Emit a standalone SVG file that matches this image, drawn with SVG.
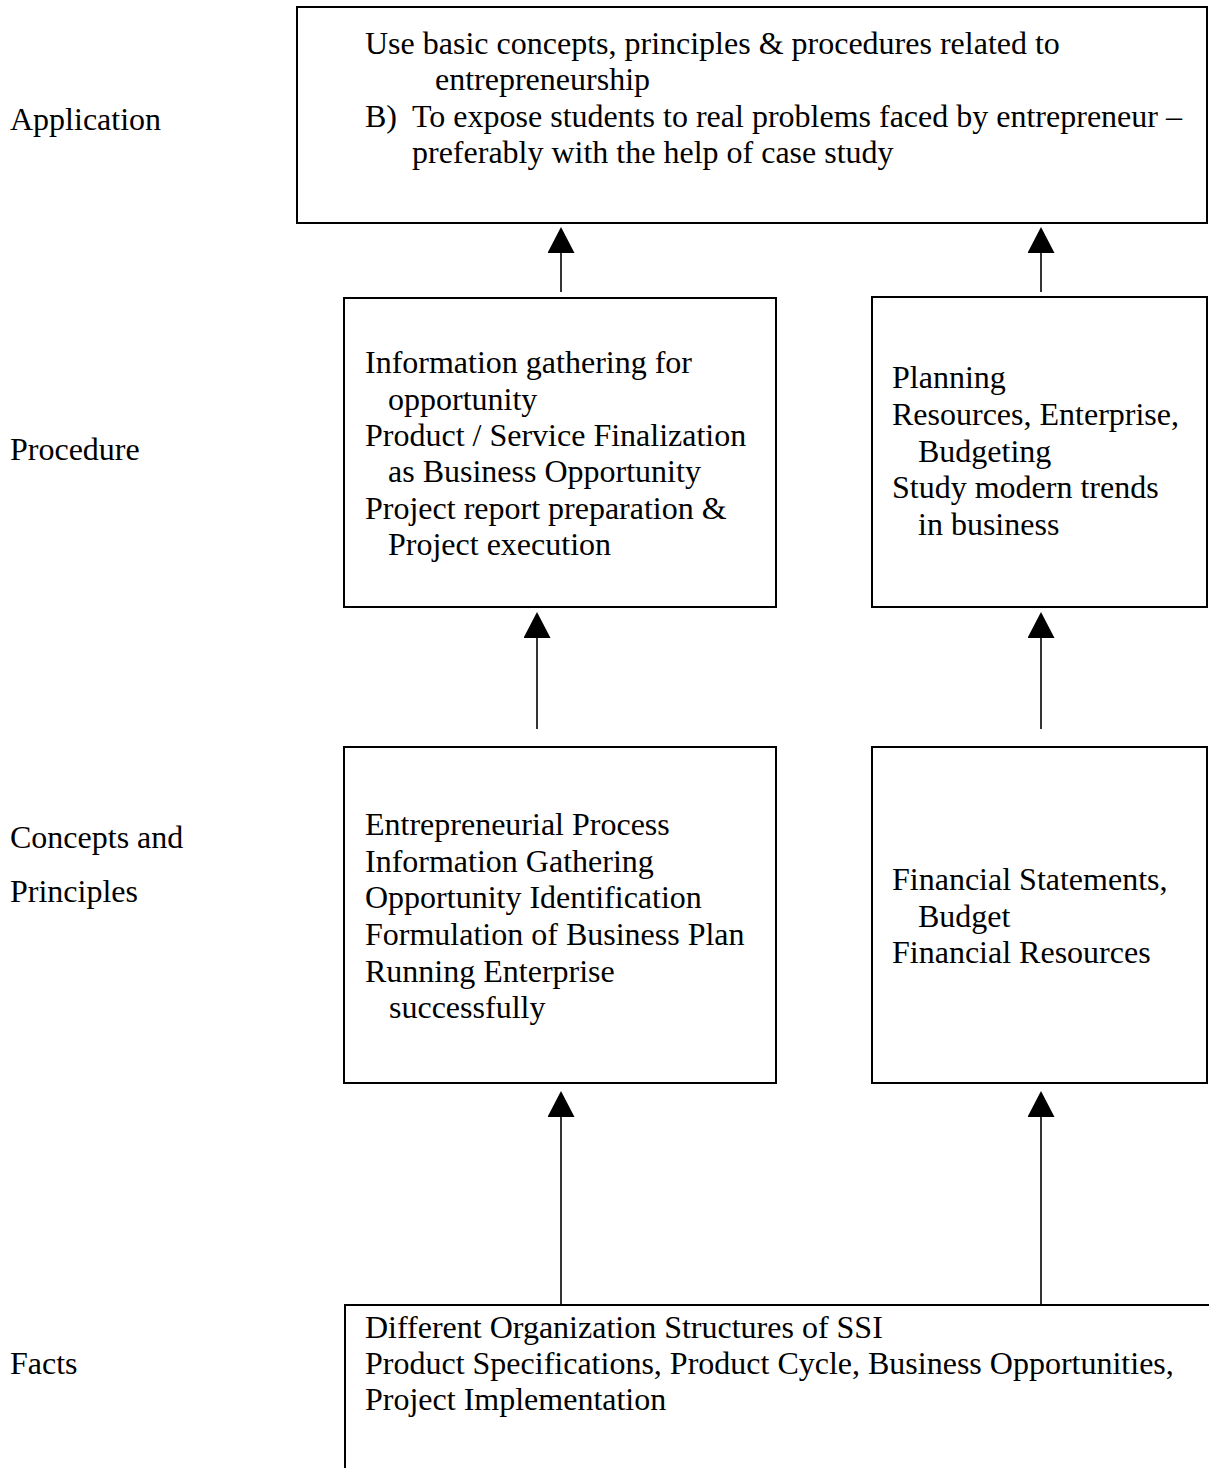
<svg xmlns="http://www.w3.org/2000/svg" width="1209" height="1468" viewBox="0 0 1209 1468">
<style>
  text { font-family: "Liberation Serif", "Times New Roman", serif; font-size: 32px; fill: #000; }
  .box { fill: #fff; stroke: #000; stroke-width: 2; }
  .conn { stroke: #000; stroke-width: 1.6; fill: none; }
</style>
<defs>
  <marker id="arr" viewBox="0 0 26 27" refX="0" refY="13.5" markerWidth="26" markerHeight="27" markerUnits="userSpaceOnUse" orient="auto">
    <path d="M0,0 L26,13.5 L0,27 Z" fill="#000"/>
  </marker>
</defs>
<rect width="1209" height="1468" fill="#fff"/>

<g id="labels">
  <text x="10" y="130">Application</text>
  <text x="10" y="460">Procedure</text>
  <text x="10" y="848">Concepts and</text>
  <text x="10" y="902">Principles</text>
  <text x="10" y="1374">Facts</text>
</g>

<g id="connectors">
  <line class="conn" x1="561" y1="292" x2="561" y2="253" marker-end="url(#arr)"/>
  <line class="conn" x1="1041" y1="292" x2="1041" y2="253" marker-end="url(#arr)"/>
  <line class="conn" x1="537" y1="729" x2="537" y2="638" marker-end="url(#arr)"/>
  <line class="conn" x1="1041" y1="729" x2="1041" y2="638" marker-end="url(#arr)"/>
  <line class="conn" x1="561" y1="1305" x2="561" y2="1117" marker-end="url(#arr)"/>
  <line class="conn" x1="1041" y1="1305" x2="1041" y2="1117" marker-end="url(#arr)"/>
</g>

<g id="application">
  <rect class="box" x="297" y="7" width="910" height="216"/>
  <text x="365" y="54">Use basic concepts, principles &amp; procedures related to</text>
  <text x="435" y="90">entrepreneurship</text>
  <text x="365" y="127">B)</text>
  <text x="412" y="127">To expose students to real problems faced by entrepreneur –</text>
  <text x="412" y="163">preferably with the help of case study</text>
</g>

<g id="procedure-left">
  <rect class="box" x="344" y="298" width="432" height="309"/>
  <text x="365" y="373">Information gathering for</text>
  <text x="388" y="410">opportunity</text>
  <text x="365" y="446">Product / Service Finalization</text>
  <text x="388" y="482">as Business Opportunity</text>
  <text x="365" y="519">Project report preparation &amp;</text>
  <text x="388" y="555">Project execution</text>
</g>

<g id="procedure-right">
  <rect class="box" x="872" y="297" width="335" height="310"/>
  <text x="892" y="388">Planning</text>
  <text x="892" y="425">Resources, Enterprise,</text>
  <text x="918" y="462">Budgeting</text>
  <text x="892" y="498">Study modern trends</text>
  <text x="918" y="535">in business</text>
</g>

<g id="concepts-left">
  <rect class="box" x="344" y="747" width="432" height="336"/>
  <text x="365" y="835">Entrepreneurial Process</text>
  <text x="365" y="872">Information Gathering</text>
  <text x="365" y="908">Opportunity Identification</text>
  <text x="365" y="945">Formulation of Business Plan</text>
  <text x="365" y="982">Running Enterprise</text>
  <text x="389" y="1018">successfully</text>
</g>

<g id="concepts-right">
  <rect class="box" x="872" y="747" width="335" height="336"/>
  <text x="892" y="890">Financial Statements,</text>
  <text x="918" y="927">Budget</text>
  <text x="892" y="963">Financial Resources</text>
</g>

<g id="facts">
  <path d="M345,1468 V1305 H1209" fill="none" stroke="#000" stroke-width="2"/>
  <text x="365" y="1338">Different Organization Structures of SSI</text>
  <text x="365" y="1374">Product Specifications, Product Cycle, Business Opportunities,</text>
  <text x="365" y="1410">Project Implementation</text>
</g>
</svg>
